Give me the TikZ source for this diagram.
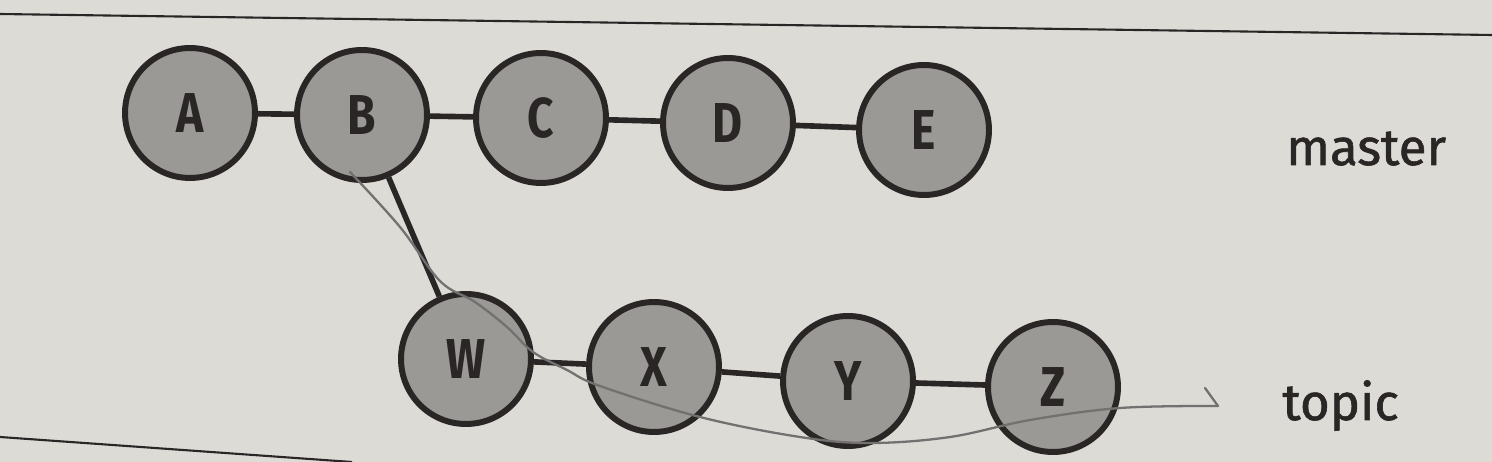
\documentclass[tikz,border=0pt]{standalone}
\usepackage{fontspec}
\setmainfont{Fira Sans}
\newfontfamily\condfont[FakeStretch=0.82]{Fira Sans}
\newfontfamily\labelfont[FakeBold=1.2]{Fira Sans}
\definecolor{paper}{HTML}{DCDBD6}
\definecolor{nodegray}{HTML}{9A9996}
\definecolor{ink}{HTML}{2A2626}
\definecolor{pencil}{HTML}{727170}
\tikzstyle{cS}=[circle,minimum size = 2.6cm,inner sep = 0pt,draw=ink,line width=3.4pt,fill=nodegray,text=ink, font=\condfont\fontsize{32}{36}\selectfont\bfseries]
\tikzstyle{eS}=[line width=3.2pt,draw=ink]
\tikzstyle{lS}=[anchor=base west,inner sep=0pt,text=ink, font=\labelfont\fontsize{29}{34}\selectfont]
\tikzstyle{pS}=[line width=1.3pt,draw=pencil,line cap=round,line join=round]
\begin{document}
\begin{tikzpicture}[x=0.02cm,y=-0.02cm]
                \fill[paper] (0,0) rectangle (1492,462);
                \useasboundingbox (0,0) rectangle (1492,462);
                \draw[ink,line width=1.2pt] (0,14) -- (1492,35);
                \draw[ink,line width=1.2pt] (0,437) -- (352,462);
                % master
                \draw (190,113) node[cS] (a) {A};
                \draw (362,115) node[cS] (b) {B};
                \draw (541,118) node[cS] (c) {C};
                \draw (728,123) node[cS] (d) {D};
                \draw (924,130) node[cS] (e) {E};
                % topic
                \draw (466,359) node[cS] (w) {W};
                \draw (654,367) node[cS] (x) {X};
                \draw (848,381) node[cS] (y) {Y};
                \draw (1053,387) node[cS] (z) {Z};
                \draw (1286,165) node[lS] (master) {master};
                \draw (1282,420) node[lS] (topic) {topic};
                \path
                    (a) edge[eS] (b)
                    (b) edge[eS] (c)
                    (c) edge[eS] (d)
                    (d) edge[eS] (e)
                    (b) edge[eS] (w)
                    (w) edge[eS] (x)
                    (x) edge[eS] (y)
                    (y) edge[eS] (z)
                ;
                % pencil mark
                \coordinate (p0) at (350,172);
                \coordinate (p1) at (1218,406);
                \draw[pS] plot[smooth,tension=0.6] coordinates {(p0) (400,227) (440,281) (475,302) (507,327) (533,352) (567,370) (600,386) (700,417) (800,437) (870,443) (950,437) (1030,420) (1120,408) (p1)} -- (1205,388);
\end{tikzpicture}
\end{document}
